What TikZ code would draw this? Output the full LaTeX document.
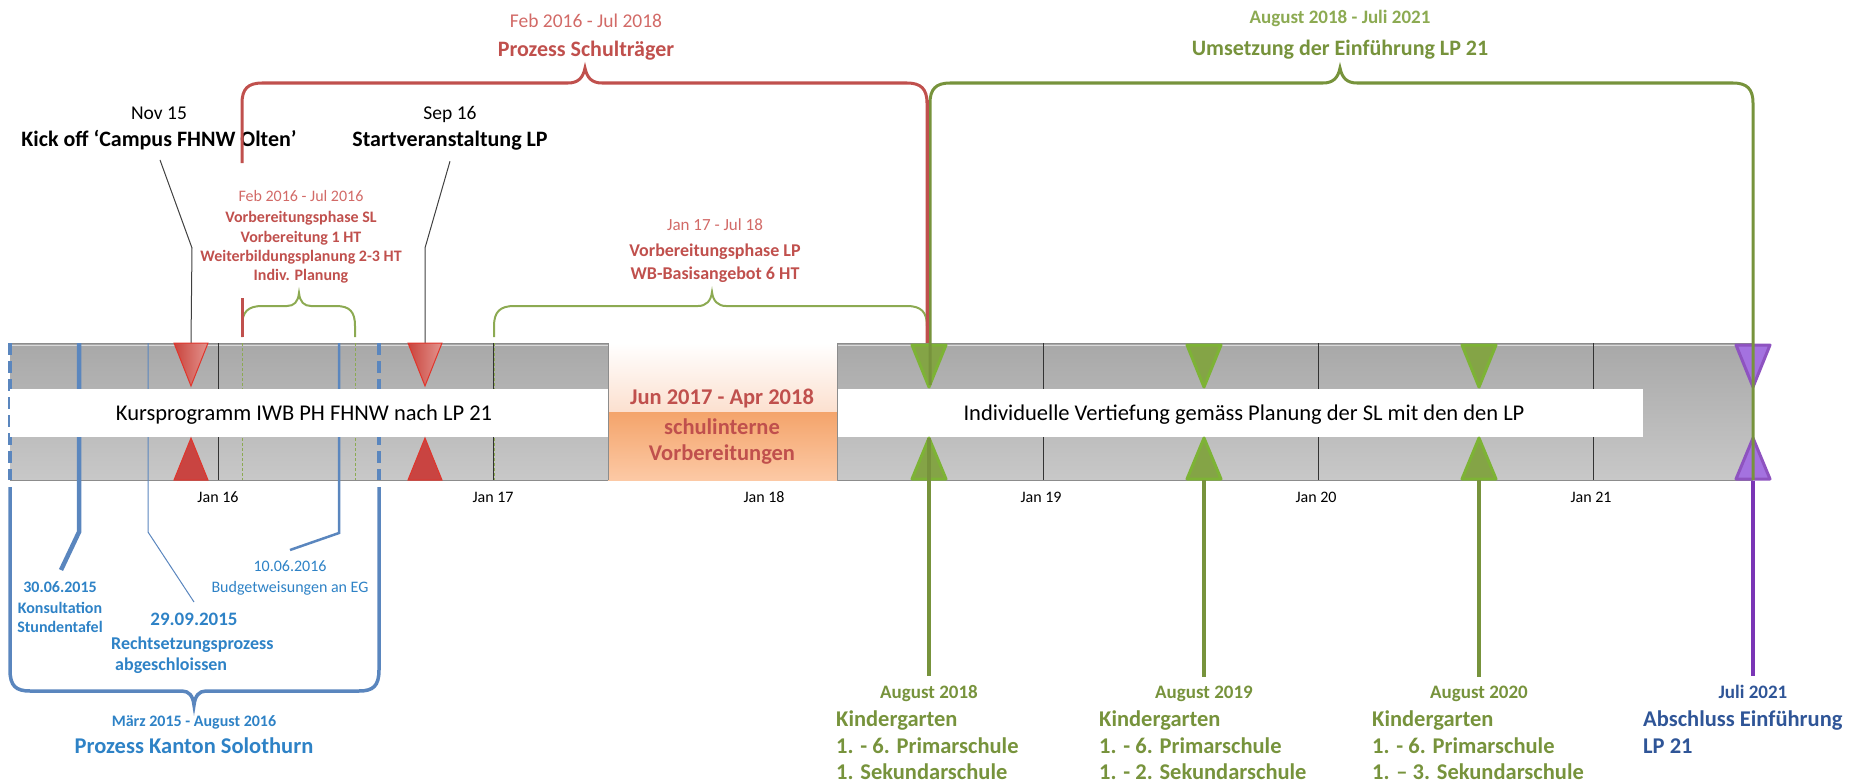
\documentclass[tikz,border=0pt]{standalone}
\usepackage{fontspec}
\setmainfont{Carlito}
\usetikzlibrary{calc}
\definecolor{cred}{HTML}{C0504D}
\definecolor{credl}{HTML}{D26A67}
\definecolor{cgreen}{HTML}{77933C}
\definecolor{cgreenl}{HTML}{8CAA52}
\definecolor{cblue}{HTML}{2E82C6}
\definecolor{cbluel}{HTML}{5A86BE}
\definecolor{cdblue}{HTML}{2F5597}
\definecolor{cpurple}{HTML}{7A35B5}
\definecolor{cpurplef}{HTML}{A472E0}
\definecolor{gtop}{HTML}{A8A8A8}
\definecolor{gbot}{HTML}{C8C8C8}
\definecolor{tgfill}{HTML}{84A446}
\definecolor{tgdraw}{HTML}{7DB335}
\definecolor{orA}{HTML}{FCE0CF}
\definecolor{orB}{HTML}{F4A46B}
\definecolor{orC}{HTML}{FCC9A5}
\definecolor{rtL}{HTML}{C9443D}
\definecolor{rtR}{HTML}{E3948E}
\definecolor{rtD}{HTML}{E0352C}
\newcommand\fsz[1]{\fontsize{#1}{#1}\selectfont}
\begin{document}
\begin{tikzpicture}[x=1pt,y=-1pt,
  every node/.style={inner sep=0pt},
  conn/.style={draw=black!75, line width=1pt},
  rbrace/.style={draw=cred, line width=3pt},
  gbrace/.style={draw=cgreen, line width=3pt},
  sgbrace/.style={draw=cgreenl, line width=2pt},
  bbrace/.style={draw=cbluel, line width=3.5pt},
  yeartick/.style={draw=black!80, line width=1pt},
  gdash/.style={draw=cgreenl, line width=0.8pt, dash pattern=on 3pt off 2pt},
  bdash/.style={draw=cbluel, line width=3.5pt, dash pattern=on 12pt off 6pt},
  gline/.style={draw=cgreen, line width=3.5pt},
  pline/.style={draw=cpurple, line width=3.5pt},
  gtri/.style={fill=tgfill, draw=tgdraw, line width=3pt, line join=round},
  ptri/.style={fill=cpurplef, draw=cpurple!85, line width=3pt, line join=round},
  rtriA/.style={left color=rtL, right color=rtR, draw=rtD, line width=1pt},
  rtriB/.style={fill=cred!85!red, draw=rtD, line width=1pt},
  lab/.style={anchor=base},
  labw/.style={anchor=base west},
]
\useasboundingbox (0,0) rectangle (1850,784);

% ---------- top texts ----------
\node[lab, font=\fsz{19.5}, text=credl] (pstime) at (586,27.4) {Feb 2016 - Jul 2018};
\node[lab, font=\fsz{22}\bfseries, text=cred] (pstitle) at (586,56.3) {Prozess Schulträger};
\node[lab, font=\fsz{19}\bfseries, text=cgreenl] (umtime) at (1340,23.3) {August 2018 - Juli 2021};
\node[lab, font=\fsz{22}\bfseries, text=cgreen] (umtitle) at (1340,55.3) {Umsetzung der Einführung LP 21};
\node[lab, font=\fsz{19.5}] (nov) at (159,119.4) {Nov 15};
\node[lab, font=\fsz{22}\bfseries] (kick) at (159,146.3) {Kick off ‘Campus FHNW Olten’};
\node[lab, font=\fsz{19.5}] (sep) at (450,119.4) {Sep 16};
\node[lab, font=\fsz{22}\bfseries] (start) at (450,146.3) {Startveranstaltung LP};

\node[lab, font=\fsz{16}, text=credl] (sl1) at (301,201.3) {Feb 2016 - Jul 2016};
\node[lab, font=\fsz{16}\bfseries, text=cred] (sl2) at (301,222.3) {Vorbereitungsphase SL};
\node[lab, font=\fsz{16}\bfseries, text=cred] (sl3) at (301,242.3) {Vorbereitung 1 HT};
\node[lab, font=\fsz{16}\bfseries, text=cred] (sl4) at (301,261.3) {Weiterbildungsplanung 2-3 HT};
\node[lab, font=\fsz{16}\bfseries, text=cred] (sl5) at (301,280.3) {Indiv. Planung};

\node[lab, font=\fsz{17}, text=credl] (lp1) at (715,230.6) {Jan 17 - Jul 18};
\node[lab, font=\fsz{18}\bfseries, text=cred] (lp2) at (715,256) {Vorbereitungsphase LP};
\node[lab, font=\fsz{18}\bfseries, text=cred] (lp3) at (715,279) {WB-Basisangebot 6 HT};

% ---------- top braces ----------
\draw[rbrace] (242,163) -- (242,103) .. controls (242,89) and (248,83) .. (262,83) -- (568,83)
  .. controls (578,83) and (583,78) .. (585,68) .. controls (587,78) and (592,83) .. (602,83)
  -- (907,83) .. controls (921,83) and (927,89) .. (927,103) -- (927,343);
\draw[sgbrace] (242,337) -- (242,326) .. controls (242,312) and (248,306) .. (262,306) -- (287,306)
  .. controls (294,306) and (298,302) .. (299,293) .. controls (300,302) and (304,306) .. (311,306)
  -- (336,306) .. controls (350,306) and (355,312) .. (355,326) -- (355,337);
\draw[sgbrace] (494,337) -- (494,326) .. controls (494,312) and (500,306) .. (514,306) -- (698,306)
  .. controls (706,306) and (711,301) .. (712,292) .. controls (713,301) and (718,306) .. (726,306)
  -- (907,306) .. controls (921,306) and (927,312) .. (927,326) -- (927,337);
\draw[draw=cred, line width=3pt] (242,298) -- (242,337);

% ---------- connectors from labels ----------
\coordinate (knee1) at (192,248);
\coordinate (knee2) at (425,248);
\coordinate (tnov) at (191,343);
\coordinate (tsep) at (425,343);
\draw[conn] ($(kick.south)+(1,10)$) -- (knee1) -- (tnov);
\draw[conn] ($(start.south)+(0,11)$) -- (knee2) -- (tsep);

% ---------- bar ----------
\shade[top color=gtop, bottom color=gbot] (10,343) rectangle (1753,480);
\draw[draw=black!45, line width=1pt] (10,343) -- (1753,343);
\draw[draw=white!85!black, line width=1pt] (10,345.5) -- (1753,345.5);
\draw[draw=black!45, line width=1pt] (10,480) -- (1753,480);
\foreach \x in {218,493,1043,1318,1593} \draw[yeartick] (\x,343) -- (\x,480);
\foreach \x in {242,355,494} \draw[gdash] (\x,343) -- (\x,480);

% blue lines
\draw[bdash] (10,343) -- (10,480);
\draw[bdash] (379,343) -- (379,480);
\draw[draw=cbluel, line width=4.5pt] (79,343) -- (79,532) -- (61,570);
\draw[draw=cbluel, line width=1pt] (148,343) -- (148,532) -- (194,602);
\draw[draw=cbluel, line width=2.5pt] (339,343) -- (339,533) -- (290,550);
\draw[bbrace] (10,487) -- (10,670) .. controls (10,686) and (16,691) .. (30,691) -- (182,691)
  .. controls (189,691) and (193,696) .. (194,705) .. controls (195,696) and (199,691) .. (206,691)
  -- (359,691) .. controls (373,691) and (379,686) .. (379,670) -- (379,487);

% white bands
\fill[white] (10,389) rectangle (608,437);
\fill[white] (837,389) rectangle (1643,437);
% orange box
\shade[top color=white, bottom color=orA] (608,343) rectangle (837,412);
\shade[top color=orB, bottom color=orC] (608,412) rectangle (837,480);
\draw[draw=black!45, line width=1pt] (608,343) -- (608,480);
\draw[draw=black!45, line width=1pt] (837,343) -- (837,480);

\node[lab, font=\fsz{22.5}] (kurs) at (304,420.3) {Kursprogramm IWB PH FHNW nach LP 21};
\node[lab, font=\fsz{22.5}] (indiv) at (1244,420.3) {Individuelle Vertiefung gemäss Planung der SL mit den den LP};
\node[lab, font=\fsz{22.5}\bfseries, text=cred] (or1) at (722,404.4) {Jun 2017 - Apr 2018};
\node[lab, font=\fsz{22.5}\bfseries, text=cred] (or2) at (722,434.4) {schulinterne};
\node[lab, font=\fsz{22.5}\bfseries, text=cred] (or3) at (722,460.4) {Vorbereitungen};

% year labels
\foreach \x/\t in {218/16,493/17,764/18,1041/19,1316/20,1591/21}
  \node[lab, font=\fsz{16}] (jan\t) at (\x,502.3) {Jan \t};

% ---------- triangles ----------
\foreach \x in {191,425} {
  \path[rtriA] (\x-17,343) -- (\x+17,343) -- (\x,386) -- cycle;
  \path[rtriB] (\x-17,480) -- (\x+17,480) -- (\x,438) -- cycle;
}
\foreach \x in {929,1204,1479} {
  \path[gtri] (\x-17,345) -- (\x+17,345) -- (\x,387) -- cycle;
  \path[gtri] (\x-17,479) -- (\x+17,479) -- (\x,438) -- cycle;
}
\path[ptri] (1736,345) -- (1770,345) -- (1753,387) -- cycle;
\path[ptri] (1736,479) -- (1770,479) -- (1753,438) -- cycle;

% ---------- green top brace and verticals ----------
\draw[gbrace] (930,385) -- (930,103) .. controls (930,89) and (936,83) .. (950,83) -- (1323,83)
  .. controls (1333,83) and (1338,78) .. (1340,68) .. controls (1342,78) and (1347,83) .. (1357,83)
  -- (1733,83) .. controls (1747,83) and (1753,89) .. (1753,103) -- (1753,480);
\draw[draw=cred, line width=3pt] (927,100) -- (927,343);

% ---------- bottom milestone labels ----------
\node[lab, font=\fsz{19}\bfseries, text=cgreen] (aug18) at (929,698.3) {August 2018};
\node[labw, font=\fsz{22.5}\bfseries, text=cgreen] (k18a) at (836,726.4) {Kindergarten};
\node[labw, font=\fsz{22.5}\bfseries, text=cgreen] (k18b) at (836,753.4) {1. - 6. Primarschule};
\node[labw, font=\fsz{22.5}\bfseries, text=cgreen] (k18c) at (836,779.4) {1. Sekundarschule};

\node[lab, font=\fsz{19}\bfseries, text=cgreen] (aug19) at (1204,698.3) {August 2019};
\node[labw, font=\fsz{22.5}\bfseries, text=cgreen] (k19a) at (1099,726.4) {Kindergarten};
\node[labw, font=\fsz{22.5}\bfseries, text=cgreen] (k19b) at (1099,753.4) {1. - 6. Primarschule};
\node[labw, font=\fsz{22.5}\bfseries, text=cgreen] (k19c) at (1099,779.4) {1. - 2. Sekundarschule};

\node[lab, font=\fsz{19}\bfseries, text=cgreen] (aug20) at (1479,698.3) {August 2020};
\node[labw, font=\fsz{22.5}\bfseries, text=cgreen] (k20a) at (1372,726.4) {Kindergarten};
\node[labw, font=\fsz{22.5}\bfseries, text=cgreen] (k20b) at (1372,753.4) {1. - 6. Primarschule};
\node[labw, font=\fsz{22.5}\bfseries, text=cgreen] (k20c) at (1372,779.4) {1. – 3. Sekundarschule};

\node[lab, font=\fsz{19}\bfseries, text=cdblue] (jul21) at (1753,698.3) {Juli 2021};
\node[labw, font=\fsz{22.5}\bfseries, text=cdblue] (absa) at (1643,726.4) {Abschluss Einführung};
\node[labw, font=\fsz{22.5}\bfseries, text=cdblue] (absb) at (1643,753.4) {LP 21};

\draw[gline] (929,438) -- ($(aug18.north)+(0,-9)$);
\draw[gline] (1204,480) -- ($(aug19.north)+(0,-9)$);
\draw[gline] (1479,480) -- ($(aug20.north)+(0,-9)$);
\draw[pline] (1753,481) -- ($(jul21.north)+(0,-9)$);

% ---------- blue labels ----------
\node[lab, font=\fsz{16}\bfseries, text=cblue] (b1a) at (60,592.3) {30.06.2015};
\node[lab, font=\fsz{16}\bfseries, text=cblue] (b1b) at (60,613.3) {Konsultation};
\node[lab, font=\fsz{16}\bfseries, text=cblue] (b1c) at (60,632.3) {Stundentafel};
\node[lab, font=\fsz{19}\bfseries, text=cblue] (b2a) at (194,625.3) {29.09.2015};
\node[labw, font=\fsz{18}\bfseries, text=cblue] (b2b) at (111,649) {Rechtsetzungsprozess};
\node[labw, font=\fsz{18}\bfseries, text=cblue] (b2c) at (115,670) {abgeschloissen};
\node[lab, font=\fsz{16}, text=cblue] (b3a) at (290,571.3) {10.06.2016};
\node[lab, font=\fsz{16}, text=cblue] (b3b) at (290,592.3) {Budgetweisungen an EG};
\node[lab, font=\fsz{16}\bfseries, text=cblue] (b4a) at (194,726.3) {März 2015 - August 2016};
\node[lab, font=\fsz{22.5}\bfseries, text=cblue] (b4b) at (194,753.4) {Prozess Kanton Solothurn};
\end{tikzpicture}
\end{document}
